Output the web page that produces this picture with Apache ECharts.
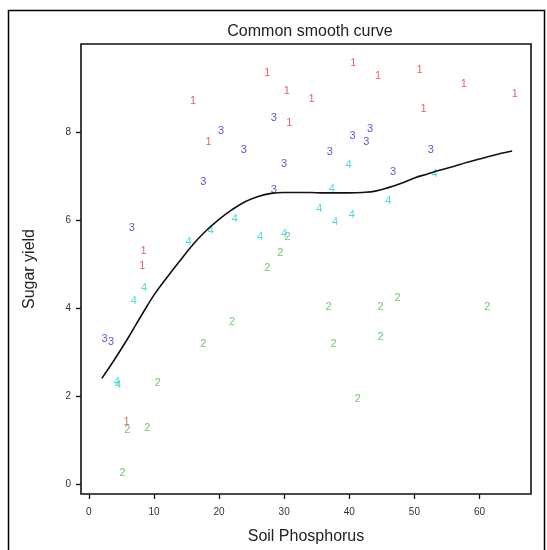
<!DOCTYPE html>
<html>
<head>
<meta charset="utf-8">
<style>
  html, body { margin: 0; padding: 0; background: #fff; }
  #chart { width: 547px; height: 550px; }
</style>
<script src="https://cdn.jsdelivr.net/npm/echarts@6/dist/echarts.min.js"></script>
</head>
<body>
<div id="chart"></div>
<script>
// Field groups 1–4: [soil phosphorus, sugar yield]
const group1 = [
  [27.4, 9.35], [40.6, 9.56], [44.4, 9.28], [50.8, 9.42], [57.6, 9.09],
  [65.4, 8.87], [30.4, 8.94], [34.2, 8.76], [16.0, 8.70], [51.4, 8.52],
  [30.8, 8.21], [18.4, 7.77], [8.4, 5.30], [8.2, 4.96], [5.8, 1.42]
];
const group2 = [
  [5.9, 1.24], [9.0, 1.29], [5.2, 0.27], [10.6, 2.31], [17.6, 3.20],
  [22.0, 3.69], [27.4, 4.91], [29.4, 5.26], [30.5, 5.63], [36.8, 4.04],
  [37.6, 3.20], [44.8, 4.04], [44.8, 3.34], [47.4, 4.24], [61.2, 4.04],
  [41.3, 1.94]
];
const group3 = [
  [2.4, 3.31], [3.4, 3.23], [6.6, 5.82], [17.6, 6.87], [20.3, 8.02],
  [23.8, 7.59], [28.4, 8.33], [30.0, 7.28], [28.4, 6.69], [37.0, 7.55],
  [40.5, 7.92], [43.2, 8.06], [42.6, 7.77], [46.7, 7.09], [52.5, 7.60]
];
const group4 = [
  [4.3, 2.33], [4.5, 2.25], [6.9, 4.16], [8.5, 4.46], [15.3, 5.50],
  [18.7, 5.76], [22.4, 6.02], [26.3, 5.62], [30.0, 5.69], [35.4, 6.26],
  [37.3, 6.71], [37.8, 5.96], [40.4, 6.11], [39.9, 7.26], [46.0, 6.43],
  [53.1, 7.05]
];

// Common smooth curve fitted across all groups
const smoothCurve = [
  [2, 2.41], [4, 2.85], [6, 3.32], [8, 3.82], [10, 4.30], [12, 4.70],
  [14, 5.08], [16, 5.45], [18, 5.76], [20, 6.02], [22, 6.24], [24, 6.42],
  [26, 6.54], [28, 6.61], [30, 6.63], [32, 6.63], [34, 6.63], [36, 6.62],
  [38, 6.62], [40, 6.62], [42, 6.63], [44, 6.66], [46, 6.74], [48, 6.84],
  [50, 6.96], [52, 7.05], [54, 7.14], [56, 7.22], [58, 7.31], [60, 7.39],
  [62, 7.47], [65, 7.57]
];

const xTicks = [0, 10, 20, 30, 40, 50, 60];
const yTicks = [0, 2, 4, 6, 8];

const groupColors = ['#dd3b3b', '#4cb84c', '#3030c8', '#25d0d0'];
const groupLabels = ['1', '2', '3', '4'];
const groups = [group1, group2, group3, group4];

const FONT = 'Liberation Sans, Arial, sans-serif';

const chart = echarts.init(document.getElementById('chart'), null, { renderer: 'canvas' });

// Each observation is drawn as its group number
const glyphSeries = groups.map((data, i) => ({
  type: 'scatter',
  name: groupLabels[i],
  data: data,
  symbol: 'circle',
  symbolSize: 1,
  itemStyle: { color: 'rgba(0,0,0,0)' },
  silent: true,
  label: {
    show: true,
    position: 'inside',
    formatter: groupLabels[i],
    color: groupColors[i],
    textBorderWidth: 0,
    textBorderColor: 'transparent',
    fontFamily: FONT,
    fontSize: 11
  },
  labelLayout: { hideOverlap: false },
  z: 3
}));

chart.setOption({
  animation: false,
  backgroundColor: '#fff',
  title: {
    text: 'Common smooth curve',
    left: 305,
    top: 19,
    textAlign: 'center',
    textStyle: { fontFamily: FONT, fontSize: 16, fontWeight: 'normal', color: '#222' }
  },
  graphic: [{
    type: 'rect',
    shape: { x: 8.5, y: 10.5, width: 536, height: 560 },
    style: { fill: 'none', stroke: '#000', lineWidth: 1.5 },
    silent: true
  }],
  grid: {
    left: 81, right: 16, top: 44, bottom: 56,
    show: true, borderColor: '#111', borderWidth: 1.6, backgroundColor: 'transparent'
  },
  xAxis: {
    type: 'value',
    min: -1.2, max: 67.9,
    name: 'Soil Phosphorus',
    nameLocation: 'middle',
    nameGap: 35,
    nameTextStyle: { fontFamily: FONT, fontSize: 16, color: '#222' },
    axisLine: { show: false, onZero: false },
    splitLine: { show: false },
    axisTick: { show: true, customValues: xTicks, length: 5, inside: false, lineStyle: { color: '#111', width: 1.3 } },
    axisLabel: { customValues: xTicks, fontFamily: FONT, fontSize: 10, color: '#333', margin: 13 }
  },
  yAxis: {
    type: 'value',
    min: -0.215, max: 10.0,
    name: 'Sugar yield',
    nameLocation: 'middle',
    nameGap: 43,
    nameTextStyle: { fontFamily: FONT, fontSize: 16, color: '#222' },
    axisLine: { show: false, onZero: false },
    splitLine: { show: false },
    axisTick: { show: true, customValues: yTicks, length: 5, inside: false, lineStyle: { color: '#111', width: 1.3 } },
    axisLabel: { customValues: yTicks, fontFamily: FONT, fontSize: 10, color: '#333', margin: 10 }
  },
  series: [
    ...glyphSeries,
    {
      type: 'line',
      name: 'smooth',
      data: smoothCurve,
      smooth: 0.4,
      showSymbol: false,
      lineStyle: { color: '#111', width: 1.6 },
      silent: true,
      z: 4
    }
  ]
});
</script>
</body>
</html>
